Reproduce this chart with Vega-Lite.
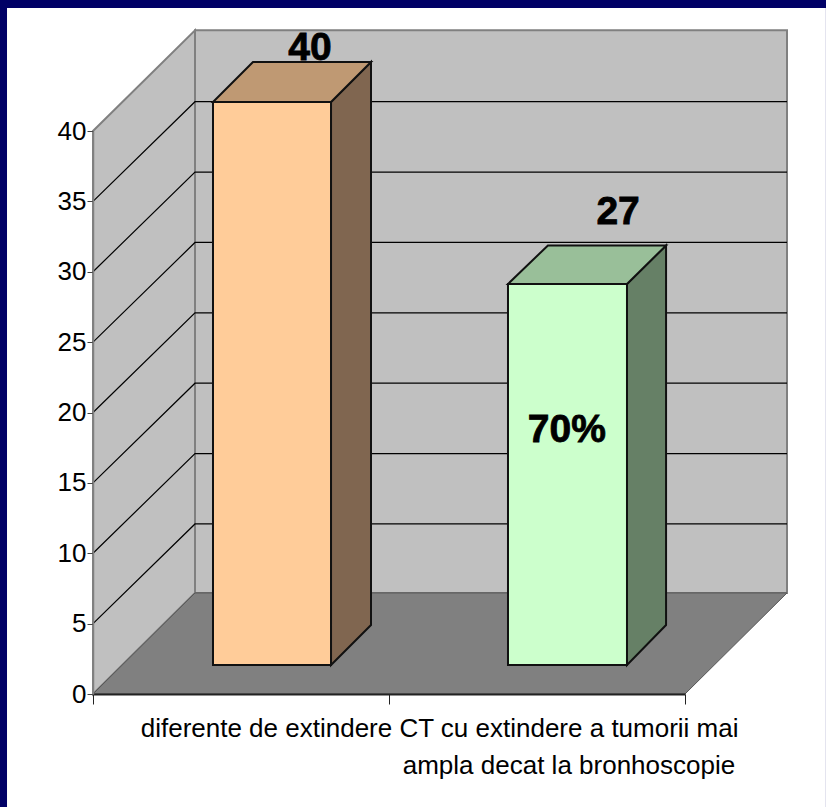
{
"$schema":"https://vega.github.io/schema/vega-lite/v6.json",
"width":592,"height":563,
"padding":{"left":93,"top":131,"right":141,"bottom":113},
"autosize":{"type":"none"},
"background":"#000066",
"config":{"view":{"stroke":null},"text":{"font":"Liberation Sans"},"axis":{"labelFont":"Liberation Sans"}},
"datasets":{
"panel":[{"x":-0.2905,"x2":2.476,"y":-8.03,"y2":48.74}],
"walls":[
{"part":"wall back","x":0.3446,"y":7.18,"y2":47.15},
{"part":"wall back","x":2.3446,"y":7.18,"y2":47.15},
{"part":"wall left","x":0,"y":0,"y2":40},
{"part":"wall left","x":0.3446,"y":7.18,"y2":47.15}],
"floor":[
{"part":"floor","x":0,"x2":2,"y":0},
{"part":"floor","x":0.3446,"x2":2.3446,"y":7.18}],
"grid":[
{"tick":5,"x":0,"y":5},{"tick":5,"x":0.3446,"y":12.08},{"tick":5,"x":2.3446,"y":12.08},
{"tick":10,"x":0,"y":10},{"tick":10,"x":0.3446,"y":17.08},{"tick":10,"x":2.3446,"y":17.08},
{"tick":15,"x":0,"y":15},{"tick":15,"x":0.3446,"y":22.08},{"tick":15,"x":2.3446,"y":22.08},
{"tick":20,"x":0,"y":20},{"tick":20,"x":0.3446,"y":27.08},{"tick":20,"x":2.3446,"y":27.08},
{"tick":25,"x":0,"y":25},{"tick":25,"x":0.3446,"y":32.08},{"tick":25,"x":2.3446,"y":32.08},
{"tick":30,"x":0,"y":30},{"tick":30,"x":0.3446,"y":37.08},{"tick":30,"x":2.3446,"y":37.08},
{"tick":35,"x":0,"y":35},{"tick":35,"x":0.3446,"y":42.08},{"tick":35,"x":2.3446,"y":42.08}],
"sides":[
{"part":"side a","x":0.8041,"y":2.06,"y2":42.06},
{"part":"side a","x":0.9392,"y":4.9,"y2":44.9},
{"part":"side b","x":1.804,"y":2.06,"y2":29.13},
{"part":"side b","x":1.936,"y":4.9,"y2":31.87}],
"tops":[
{"part":"top a","x":0.4054,"x2":0.8041,"y":42.06},
{"part":"top a","x":0.5405,"x2":0.9392,"y":44.9},
{"part":"top b","x":1.402,"x2":1.804,"y":29.13},
{"part":"top b","x":1.537,"x2":1.936,"y":31.87}],
"fronts":[
{"part":"front a","x":0.4054,"x2":0.8041,"y":2.06,"y2":42.06},
{"part":"front b","x":1.402,"x2":1.804,"y":2.06,"y2":29.13}],
"values":[
{"label":"40","x":0.733,"y":45.04},
{"label":"27","x":1.774,"y":33.39},
{"label":"70%","x":1.601,"y":17.9}],
"categories":[
{"label":"diferente de extindere","x":0.586,"y":-3.05},
{"label":"CT cu extindere a tumorii mai\nampla decat la bronhoscopie","x":1.608,"y":-3.05}]
},
"encoding":{
"x":{"field":"x","type":"quantitative","scale":{"domain":[0,2],"nice":false,"zero":false},
"axis":{"title":null,"values":[0,1,2],"labels":false,"grid":false,"tickSize":10,"tickColor":"#222222","domainColor":"#222222","domainWidth":2,"zindex":1}},
"y":{"field":"y","type":"quantitative","scale":{"domain":[0,40],"nice":false,"zero":false},
"axis":{"title":null,"values":[0,5,10,15,20,25,30,35,40],"grid":false,"tickSize":6,"tickColor":"#444444","domainColor":"#808080","domainWidth":1.5,"labelFontSize":26,"labelColor":"#000000","labelPadding":1,"zindex":1}}
},
"layer":[
{"data":{"name":"panel"},"mark":{"type":"rect","fill":"#ffffff"},"encoding":{"x2":{"field":"x2"},"y2":{"field":"y2"}}},
{"data":{"name":"walls"},"mark":{"type":"area","stroke":"#808080","strokeWidth":2,"orient":"vertical"},
"encoding":{"y2":{"field":"y2"},"color":{"field":"part","type":"nominal","legend":null,"scale":{"domain":["wall back","wall left","floor","side a","side b","top a","top b","front a","front b"],"range":["#C0C0C0","#C0C0C0","#808080","#806650","#668066","#BF9973","#99BF99","#FFCC99","#CCFFCC"]}}}},
{"data":{"name":"floor"},"mark":{"type":"area","stroke":"#555555","strokeWidth":1,"orient":"horizontal"},
"encoding":{"x2":{"field":"x2"},"color":{"field":"part","type":"nominal","legend":null}}},
{"data":{"name":"grid"},"mark":{"type":"line","stroke":"#000000","strokeWidth":1.2,"orient":"horizontal"},"encoding":{"detail":{"field":"tick","type":"nominal"},"order":{"field":"x","type":"quantitative"}}},
{"data":{"name":"sides"},"mark":{"type":"area","stroke":"#111111","strokeWidth":2,"orient":"vertical"},
"encoding":{"y2":{"field":"y2"},"color":{"field":"part","type":"nominal","legend":null}}},
{"data":{"name":"tops"},"mark":{"type":"area","stroke":"#111111","strokeWidth":2,"orient":"horizontal"},
"encoding":{"x2":{"field":"x2"},"color":{"field":"part","type":"nominal","legend":null}}},
{"data":{"name":"fronts"},"mark":{"type":"rect","stroke":"#111111","strokeWidth":2},
"encoding":{"x2":{"field":"x2"},"y2":{"field":"y2"},"color":{"field":"part","type":"nominal","legend":null}}},
{"data":{"name":"values"},"mark":{"type":"text","fontSize":39,"fontWeight":"bold","align":"center","baseline":"alphabetic","fill":"#000000","stroke":"#000000","strokeWidth":0.8},"encoding":{"text":{"field":"label"}}},
{"data":{"name":"categories"},"mark":{"type":"text","fontSize":26,"align":"center","baseline":"alphabetic","fill":"#000000","lineBreak":"\n","lineHeight":37},"encoding":{"text":{"field":"label"}}}
]
}
